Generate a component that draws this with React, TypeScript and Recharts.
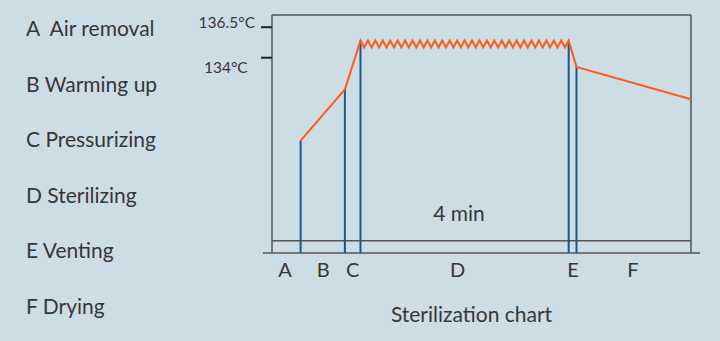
import React from 'react';
import { LineChart, Line, XAxis, YAxis, ReferenceLine, ReferenceArea, Label } from 'recharts';

const phaseNames = ['A\u00a0 Air removal', 'B Warming up', 'C Pressurizing', 'D Sterilizing', 'E Venting', 'F Drying'];
const phaseLetters = ['A', 'B', 'C', 'D', 'E', 'F'];
const phaseLabelTimes = [15, 59, 93, 214, 347, 416];
const boundaryTimes = [33, 84, 102, 342, 351];
const boundaryTemps = [127.2, 131.4, 135.4, 135.4, 133.25];
const rampTimes = [33, 84];
const rampTemps = [127.2, 131.4];
const holdTimes = [
  102, 106.29, 110.57, 114.86, 119.14, 123.43, 127.71, 132, 136.29, 140.57,
  144.86, 149.14, 153.43, 157.71, 162, 166.29, 170.57, 174.86, 179.14, 183.43,
  187.71, 192, 196.29, 200.57, 204.86, 209.14, 213.43, 217.71, 222, 226.29,
  230.57, 234.86, 239.14, 243.43, 247.71, 252, 256.29, 260.57, 264.86, 269.14,
  273.43, 277.71, 282, 286.29, 290.57, 294.86, 299.14, 303.43, 307.71, 312,
  316.29, 320.57, 324.86, 329.14, 333.43, 337.71, 342,
];
const holdTemps = [
  135.4, 134.85, 135.4, 134.85, 135.4, 134.85, 135.4, 134.85, 135.4, 134.85,
  135.4, 134.85, 135.4, 134.85, 135.4, 134.85, 135.4, 134.85, 135.4, 134.85,
  135.4, 134.85, 135.4, 134.85, 135.4, 134.85, 135.4, 134.85, 135.4, 134.85,
  135.4, 134.85, 135.4, 134.85, 135.4, 134.85, 135.4, 134.85, 135.4, 134.85,
  135.4, 134.85, 135.4, 134.85, 135.4, 134.85, 135.4, 134.85, 135.4, 134.85,
  135.4, 134.85, 135.4, 134.85, 135.4, 134.85, 135.4,
];
const ventTimes = [351, 483];
const ventTemps = [133.25, 130.6];
const tempTicks = [134, 136.5];
const tempDomain = [118, 137.5];
const timeDomain = [0, 483];
const baselineTemp = 119;
const holdStart = 102;
const holdEnd = 342;
const holdLabel = '4 min';
const chartTitle = 'Sterilization chart';

const profile = [
  ...rampTimes.map((t, i) => ({ t, temp: rampTemps[i] })),
  ...holdTimes.map((t, i) => ({ t, temp: holdTemps[i] })),
  ...ventTimes.map((t, i) => ({ t, temp: ventTemps[i] })),
];

const FONT = 'Lato, "Noto Sans", sans-serif';
const TEXT = '#363636';
const BOX = '#555555';
const BLUE = '#1d5688';
const ORANGE = '#ff5a1a';

const TempTick = (props: any) => {
  const { x, y, payload } = props;
  const isTop = payload.value === 136.5;
  const dx = isTop ? -4 : -11.3;
  const dy = isTop ? 0.4 : 15.4;
  return (
    <text x={x + dx} y={y + dy} textAnchor="end" fontSize={15.5} fontFamily={FONT} fill={TEXT}>
      {`${payload.value}°C`}
    </text>
  );
};

export default function App() {
  return (
    <div style={{ position: 'absolute', left: 0, top: 0, width: 720, height: 341, background: '#ccdde6', overflow: 'hidden' }}>
      <div style={{ position: 'absolute', left: 26, top: 0, fontFamily: FONT, fontSize: 21, color: TEXT }}>
        {phaseNames.map((n) => (
          <div key={n} style={{ height: 55.5, lineHeight: '55.5px', whiteSpace: 'pre' }}>{n}</div>
        ))}
      </div>
      <div style={{ position: 'absolute', left: 0, top: 0 }}>
        <LineChart width={720} height={341} data={profile} margin={{ top: 15, right: 29, bottom: 58, left: 212 }}>
          <XAxis
            dataKey="t"
            type="number"
            domain={timeDomain}
            ticks={phaseLabelTimes}
            tickFormatter={(v: number, i: number) => phaseLetters[i]}
            interval={0}
            axisLine={false}
            tickLine={false}
            tickSize={0}
            tickMargin={10}
            height={30}
            tick={{ fontSize: 20, fontFamily: FONT, fill: TEXT }}
          >
            <Label value={chartTitle} position="bottom" offset={24} dx={-10} fontSize={21} fontFamily={FONT} fill={TEXT} />
          </XAxis>
          <YAxis
            type="number"
            domain={tempDomain}
            ticks={tempTicks}
            width={60}
            axisLine={{ stroke: BOX, strokeWidth: 1.5 }}
            tickLine={{ stroke: '#222', strokeWidth: 2 }}
            tickSize={11}
            tick={<TempTick />}
            allowDataOverflow
          />
          <ReferenceLine y={tempDomain[1]} stroke={BOX} strokeWidth={1.5} />
          <ReferenceLine x={timeDomain[1]} stroke={BOX} strokeWidth={1.5} />
          <ReferenceLine y={baselineTemp} stroke={BOX} strokeWidth={1.5} />
          <ReferenceLine
            segment={[{ x: -10.4, y: tempDomain[0] }, { x: 493.4, y: tempDomain[0] }]}
            stroke={BOX}
            strokeWidth={1.5}
            ifOverflow="visible"
          />
          {boundaryTimes.map((t, i) => (
            <ReferenceLine
              key={t}
              segment={[{ x: t, y: tempDomain[0] }, { x: t, y: boundaryTemps[i] }]}
              stroke={BLUE}
              strokeWidth={2}
            />
          ))}
          <ReferenceArea
            x1={holdStart}
            x2={holdEnd}
            y1={120}
            y2={122.4}
            fill="none"
            stroke="none"
            label={{ value: holdLabel, position: 'center', dx: -5.6, fontSize: 21, fontFamily: FONT, fill: TEXT }}
          />
          <Line
            type="linear"
            dataKey="temp"
            stroke={ORANGE}
            strokeWidth={2}
            dot={false}
            activeDot={false}
            isAnimationActive={false}
          />
        </LineChart>
      </div>
    </div>
  );
}
